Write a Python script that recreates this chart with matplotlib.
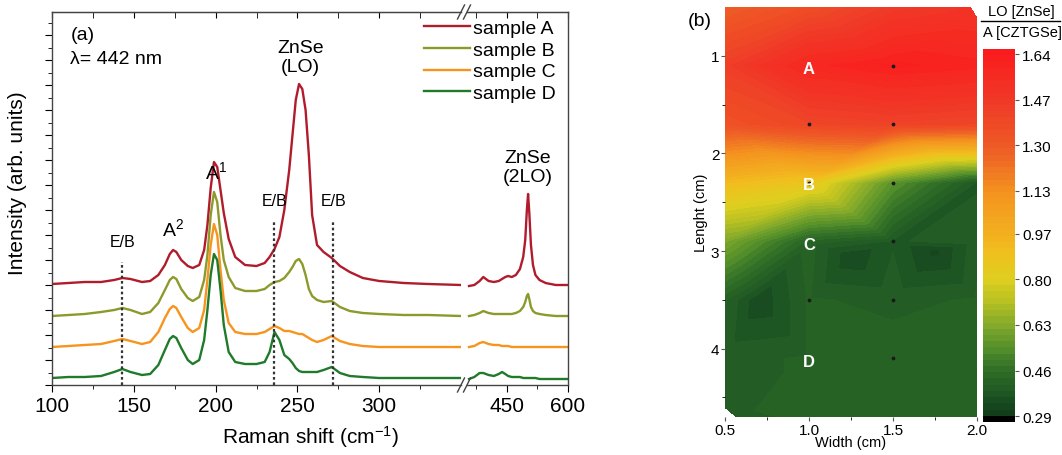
import numpy as np
import matplotlib
matplotlib.use('Agg')
import matplotlib.pyplot as plt
import matplotlib.tri as mtri
from matplotlib.colors import LinearSegmentedColormap
from matplotlib.lines import Line2D

plt.rcParams['font.family'] = ['Liberation Sans', 'DejaVu Sans']
plt.rcParams['mathtext.fontset'] = 'custom'
plt.rcParams['mathtext.rm'] = 'Liberation Sans'
plt.rcParams['mathtext.it'] = 'Liberation Sans:italic'

#%% data - Raman spectra (a), offset intensities
shift_left = [100, 110, 120, 130, 138, 143, 148, 155, 160, 165,
              169, 172, 174, 176, 179, 183, 186, 190, 193, 195,
              197, 199, 201, 203, 205, 208, 212, 218, 225, 230,
              233, 236, 239, 242, 245, 247, 249, 251, 253, 255,
              257, 259, 262, 266, 271, 276, 282, 290, 300, 315,
              330, 350]
sample_A_left = [101, 102, 103, 103, 105, 107, 106, 103, 104, 110,
                 120, 131, 135, 133, 125, 119, 117, 120, 135, 160,
                 197, 223, 218, 195, 172, 146, 128, 120, 119, 122,
                 128, 136, 148, 175, 215, 250, 285, 301, 296, 275,
                 230, 170, 140, 133, 127, 119, 113, 107, 104, 102,
                 101, 100]
sample_B_left = [69, 70, 71, 73, 75, 77, 75, 71, 73, 82,
                 95, 105, 108, 106, 96, 87, 84, 88, 105, 130,
                 170, 193, 183, 150, 125, 108, 97, 94, 94, 96,
                 100, 103, 104, 107, 113, 118, 124, 126, 121, 110,
                 96, 89, 85, 83, 84, 78, 74, 72, 71, 70,
                 70, 69]
sample_C_left = [38, 39, 40, 41, 44, 46, 44, 41, 43, 53,
                 67, 76, 79, 77, 68, 57, 53, 57, 75, 105,
                 140, 161, 150, 115, 85, 62, 53, 51, 51, 53,
                 56, 59, 57, 54, 54, 53, 52, 51, 51, 49,
                 47, 45, 43, 45, 49, 44, 41, 39, 38, 38,
                 38, 38]
sample_D_left = [7, 8, 8, 9, 13, 16, 13, 10, 11, 20,
                 35, 46, 49, 47, 37, 25, 21, 25, 45, 75,
                 110, 131, 125, 95, 60, 33, 23, 21, 21, 23,
                 33, 53, 45, 30, 26, 22, 17, 14, 13, 13,
                 13, 13, 13, 15, 18, 12, 9, 8, 7, 7,
                 7, 7]

shift_right = [357, 370, 383, 392, 405, 418, 430, 438, 446, 453,
               462, 472, 482, 490, 495, 499, 502, 505, 509, 514,
               520, 530, 545, 570, 600]
sample_A_right = [99, 100, 104, 108, 104, 103, 104, 106, 108, 109,
                  108, 110, 116, 128, 145, 175, 191, 172, 140, 120,
                  110, 105, 102, 100, 100]
sample_B_right = [69, 70, 72, 74, 72, 71, 71, 71, 71, 71,
                  71, 72, 74, 78, 83, 89, 91, 86, 78, 74,
                  72, 71, 70, 69, 69]
sample_C_right = [38, 39, 42, 43, 41, 40, 40, 39, 39, 39,
                  38, 38, 38, 38, 38, 38, 38, 38, 38, 38,
                  38, 38, 38, 38, 38]
sample_D_right = [6, 8, 12, 12, 10, 9, 11, 13, 11, 9,
                  8, 8, 8, 7, 7, 7, 7, 7, 7, 7,
                  7, 6, 6, 6, 6]

sample_names = ['sample A', 'sample B', 'sample C', 'sample D']
sample_colors = ['#b01c2c', '#8c9a2c', '#f7941e', '#1f7a2a']

eb_pos = [143, 236, 272]      # E/B dotted markers
eb_top = [123, 164, 164]
eb_label_y = [136, 177, 177]

#%% data - ratio map (b)
map_x = [0.5, 1.0, 1.5, 1.96, 2.0,
         0.5, 1.0, 1.5, 2.0,
         0.5, 1.0, 1.5, 2.0,
         0.5, 1.0, 1.5, 2.0,
         0.5, 1.0, 1.5, 2.0, 1.25, 1.75,
         0.5, 0.7, 1.0, 1.5, 2.0,
         0.5, 1.0, 1.5, 2.0,
         0.5, 0.57, 1.0, 1.5, 2.0]
map_y = [0.5, 0.5, 0.5, 0.5, 0.62,
         1.1, 1.1, 1.1, 1.1,
         1.7, 1.7, 1.7, 1.7,
         2.3, 2.3, 2.3, 2.3,
         2.9, 2.9, 2.9, 2.9, 3.05, 3.0,
         3.5, 3.5, 3.5, 3.5, 3.5,
         4.1, 4.1, 4.1, 4.1,
         4.6, 4.7, 4.7, 4.7, 4.7]
map_ratio = [1.28, 1.36, 1.46, 1.50, 1.52,
             1.44, 1.58, 1.62, 1.60,
             1.34, 1.40, 1.42, 1.40,
             0.92, 0.86, 0.55, 0.38,
             0.62, 0.42, 0.38, 0.40, 0.34, 0.33,
             0.41, 0.34, 0.41, 0.40, 0.41,
             0.40, 0.41, 0.42, 0.42,
             0.40, 0.39, 0.42, 0.42, 0.42]
meas_x = [1.0, 1.5, 1.5, 1.0, 1.5, 1.5, 1.0, 1.5, 1.5]
meas_y = [1.7, 1.1, 1.7, 2.3, 2.3, 2.9, 3.5, 3.5, 4.1]
spot_names = ['A', 'B', 'C', 'D']
spot_x = [1.0, 1.0, 1.0, 1.0]
spot_y = [1.13, 2.32, 2.93, 4.13]
cbar_ticks = [0.29, 0.46, 0.63, 0.80, 0.97, 1.13, 1.30, 1.47, 1.64]

#%% figure
W, H = 1062, 456
fig = plt.figure(figsize=(W / 100, H / 100), dpi=100)

def box(x0, y0, x1, y1):
    return [x0 / W, 1 - y1 / H, (x1 - x0) / W, (y1 - y0) / H]

ax1 = fig.add_axes(box(52, 13, 461, 386))
ax2 = fig.add_axes(box(467, 13, 568, 386), sharey=ax1)

left_sets = [sample_A_left, sample_B_left, sample_C_left, sample_D_left]
right_sets = [sample_A_right, sample_B_right, sample_C_right, sample_D_right]
handles = []
for name, col, yl, yr in zip(sample_names, sample_colors, left_sets, right_sets):
    h, = ax1.plot(shift_left, yl, color=col, lw=1.7, label=name)
    ax2.plot(shift_right, yr, color=col, lw=1.7)
    handles.append(h)

ax1.vlines(eb_pos, 0, eb_top, colors='#333333', linestyles=(0, (1.2, 1.2)), lw=1.6)
for x, y in zip(eb_pos, eb_label_y):
    ax1.text(x, y, 'E/B', ha='center', va='bottom', fontsize=11.5)

ax1.text(174, 146, r'A$^{\mathregular{2}}$', ha='center', va='bottom', fontsize=14)
ax1.text(200, 203, r'A$^{\mathregular{1}}$', ha='center', va='bottom', fontsize=14)
ax1.text(252, 310, 'ZnSe\n(LO)', ha='center', va='bottom', fontsize=14, linespacing=1.15)
ax2.text(502, 200, 'ZnSe\n(2LO)', ha='center', va='bottom', fontsize=14, linespacing=1.15)
ax1.text(0.045, 0.94, '(a)', transform=ax1.transAxes, fontsize=14, va='center')
ax1.text(0.045, 0.875, 'λ= 442 nm', transform=ax1.transAxes, fontsize=14, va='center')

ax1.set_xlim(100, 350)
ax2.set_xlim(352, 600)
ax1.set_ylim(0, 373)
ax1.set_xticks([100, 150, 200, 250, 300])
ax1.set_xticks([125, 175, 225, 275, 325], minor=True)
ax2.set_xticks([450, 600])
ax2.set_xticks([375, 525], minor=True)
ax1.set_yticks(np.arange(0, 373, 25))
ax1.set_yticks(np.arange(12.5, 373, 25), minor=True)
ax1.tick_params(axis='y', which='both', labelleft=False, direction='out', length=5)
ax1.tick_params(axis='y', which='minor', length=3)
ax2.tick_params(axis='y', which='both', left=False, labelleft=False)
for a in (ax1, ax2):
    a.tick_params(axis='x', which='major', labelsize=15, direction='out', length=5, pad=3)
    a.tick_params(axis='x', which='minor', direction='out', length=3)
    top = a.secondary_xaxis('top')
    top.set_xticks(a.get_xticks())
    top.set_xticks(a.get_xticks(minor=True), minor=True)
    top.tick_params(which='both', direction='in', length=4, labeltop=False)
    top.set_xticklabels([])
    for s in a.spines.values():
        s.set_color('#444444')
        s.set_linewidth(1.0)
    top.spines['top'].set_color('#444444')
ax1.spines['right'].set_visible(False)
ax2.spines['left'].set_visible(False)

# axis break marks
for yp in (13, 386):
    for xp in (461, 467):
        fig.add_artist(Line2D([(xp - 3.5) / W, (xp + 3.5) / W],
                              [1 - (yp + 7) / H, 1 - (yp - 7) / H],
                              transform=fig.transFigure, color='#444444', lw=1.0))

fig.text(310 / W, 1 - 437 / H, r'Raman shift (cm$^{\mathregular{-1}}$)', ha='center', va='center', fontsize=15)
fig.text(18 / W, 1 - 183 / H, 'Intensity (arb. units)', rotation=90, ha='center', va='center', fontsize=15)

fig.legend(handles=handles, loc='upper right', bbox_to_anchor=(556 / W, 1 - 20 / H),
           frameon=False, fontsize=14, handlelength=2.4, handletextpad=0.15,
           labelspacing=0.22, borderpad=0, borderaxespad=0)

#%% map panel
cmap = LinearSegmentedColormap.from_list('ratio', [
    (0.0, '#000000'), (0.012, '#000000'), (0.02, '#113c18'), (0.06, '#1a5022'),
    (0.14, '#316f27'), (0.20, '#56912a'), (0.26, '#84aa2b'), (0.32, '#b7c022'),
    (0.38, '#ddcf1f'), (0.45, '#efc11e'), (0.50, '#f3b01f'), (0.62, '#f4921f'),
    (0.68, '#f07423'), (0.74, '#ee5a25'), (0.86, '#f03a28'), (1.0, '#fb1a1c')])

ax3 = fig.add_axes(box(725, 8, 977, 418))
tri = mtri.Triangulation(map_x, map_y)
levels = np.linspace(0.268, 1.659, 61)
cs = ax3.tricontourf(tri, map_ratio, levels=levels, cmap=cmap)
ax3.scatter(meas_x, meas_y, s=3, color='#1a1a1a', zorder=3)
for n, x, y in zip(spot_names, spot_x, spot_y):
    ax3.text(x, y, n, color='white', fontsize=12, fontweight='bold', ha='center', va='center')
ax3.set_xlim(0.5, 2.0)
ax3.set_ylim(4.7, 0.5)
ax3.set_xticks([0.5, 1.0, 1.5, 2.0])
ax3.set_xticks([0.75, 1.25, 1.75], minor=True)
ax3.set_yticks([1, 2, 3, 4])
ax3.set_yticks([1.5, 2.5, 3.5, 4.5], minor=True)
ax3.tick_params(labelsize=11, color='#555555', length=3, pad=1)
ax3.tick_params(which='minor', length=2)
for s in ax3.spines.values():
    s.set_visible(False)
ax3.set_xlabel('Width (cm)', fontsize=10.5, labelpad=-1)
ax3.set_ylabel('Lenght (cm)', fontsize=10.5, labelpad=2)
fig.text(688 / W, 1 - 22 / H, '(b)', fontsize=14, va='center')

cax = fig.add_axes(box(983, 50, 1015, 423))
cb = fig.colorbar(cs, cax=cax, ticks=cbar_ticks)
cb.ax.set_yticklabels(['%.2f' % t for t in cbar_ticks])
cb.outline.set_visible(False)
cb.ax.tick_params(labelsize=11, length=3, color='#555555', pad=2)

fig.text(1021 / W, 1 - 12 / H, 'LO [ZnSe]', ha='center', va='center', fontsize=10.5)
fig.add_artist(Line2D([981 / W, 1060 / W], [1 - 22 / H, 1 - 22 / H],
                      transform=fig.transFigure, color='black', lw=1.0))
fig.text(1022 / W, 1 - 33 / H, 'A [CZTGSe]', ha='center', va='center', fontsize=10.5)

plt.savefig('out.png', dpi=100)
